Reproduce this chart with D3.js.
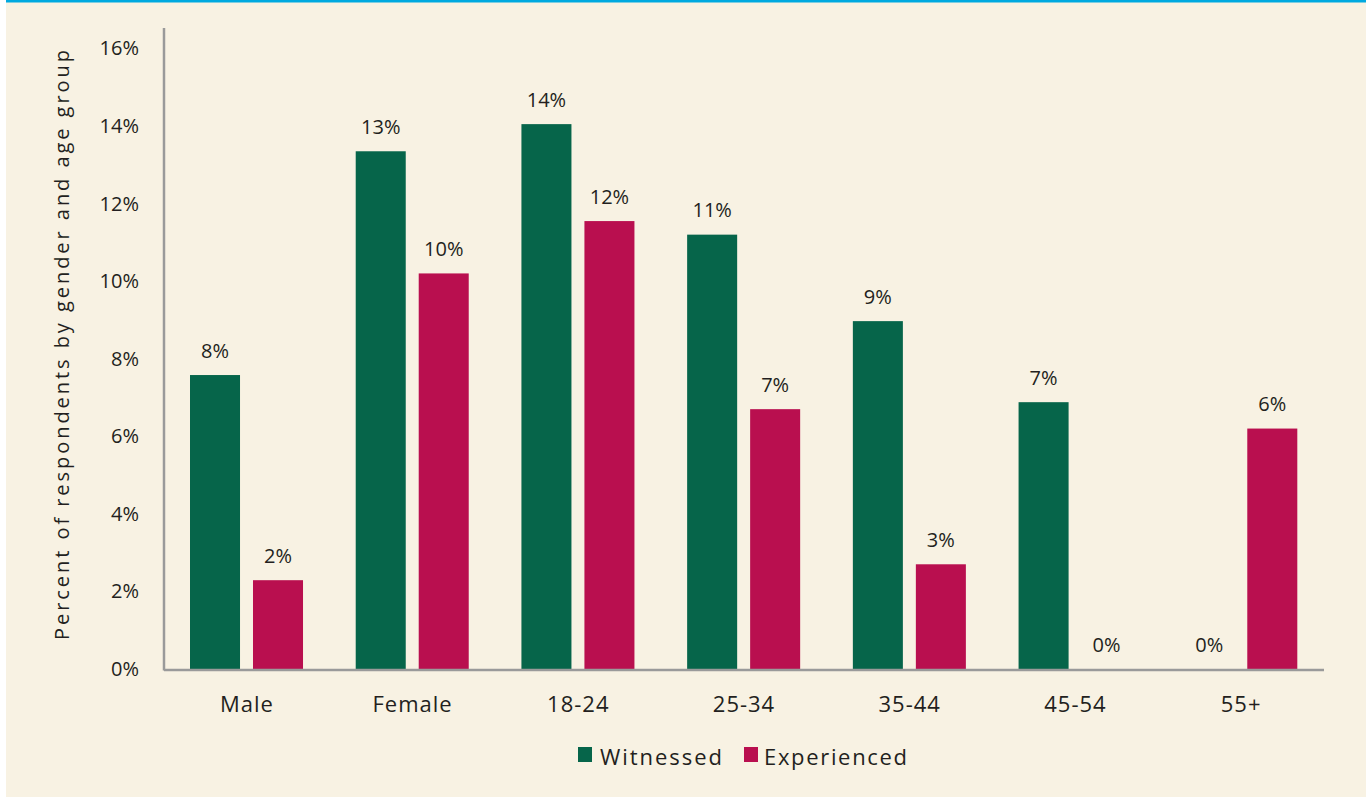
<!DOCTYPE html>
<html><head><meta charset="utf-8">
<script src="https://cdn.jsdelivr.net/npm/d3@7"></script>
<style>
html,body{margin:0;padding:0;background:#fff;}
svg{display:block;}
text{font-family:"Open Sans",Lato,sans-serif;fill:#231F20;}
</style></head>
<body>
<svg id="c" width="1366" height="797"></svg>
<script>
const categories = ["Male","Female","18-24","25-34","35-44","45-54","55+"];
const seriesNames = ["Witnessed","Experienced"];
const witnessed = [7.58, 13.35, 14.05, 11.2, 8.97, 6.88, 0];
const experienced = [2.29, 10.2, 11.55, 6.7, 2.7, 0, 6.2];
const yTicks = [0,2,4,6,8,10,12,14,16];
const colors = ["#06654A","#B90F4F"];
const yTitle = "Percent of respondents by gender and age group";

const FONT = "'Open Sans',Lato,sans-serif";
const svg = d3.select("#c");
svg.append("rect").attr("x",6).attr("y",0).attr("width",1360).attr("height",797).attr("fill","#F8F2E3");
svg.append("rect").attr("x",6).attr("y",0).attr("width",1360).attr("height",2.5).attr("fill","#00A9E0");

const x0 = 164, x1 = 1324, yBase = 669;
const x = d3.scaleBand().domain(categories).range([x0,x1]).paddingInner(0).paddingOuter(0);
const xs = d3.scaleBand().domain(seriesNames).range([26, x.bandwidth()-26.7]).paddingInner(0.206);
const y = d3.scaleLinear().domain([0,16]).range([yBase,48.5]);

const data = categories.map((c,i)=>({cat:c, vals:[witnessed[i],experienced[i]]}));

const g = svg.selectAll("g.grp").data(data).enter().append("g")
  .attr("transform", d=>`translate(${x(d.cat)},0)`);
g.selectAll("rect").data(d=>d.vals.map((v,j)=>({v,s:seriesNames[j],j})))
  .enter().append("rect")
  .attr("x", d=>xs(d.s)).attr("width", xs.bandwidth())
  .attr("y", d=>y(d.v)).attr("height", d=>yBase-y(d.v))
  .attr("fill", d=>colors[d.j]);
g.selectAll("text").data(d=>d.vals.map((v,j)=>({v,s:seriesNames[j],j})))
  .enter().append("text")
  .attr("x", d=>xs(d.s)+xs.bandwidth()/2).attr("y", d=>y(d.v)-17.3)
  .attr("text-anchor","middle").attr("font-size",20)
  .text(d=>Math.round(d.v)+"%");

// axes
const yAxis = d3.axisLeft(y).tickValues(yTicks).tickSize(0).tickPadding(25).tickFormat(d=>d+"%");
const ya = svg.append("g").attr("transform",`translate(${x0},0)`).call(yAxis);
ya.select(".domain").remove();
ya.selectAll("text").attr("font-size",20).style("font-family",FONT).attr("fill","#231F20");
svg.append("line").attr("x1",x0).attr("x2",x0).attr("y1",28).attr("y2",yBase+1.5)
  .attr("stroke","#9A9A9A").attr("stroke-width",2.5);

const xAxis = d3.axisBottom(x).tickSize(0).tickPadding(27);
const xa = svg.append("g").attr("transform",`translate(0,${yBase})`).call(xAxis);
xa.select(".domain").remove();
xa.selectAll("text").attr("font-size",22).style("font-family",FONT).attr("fill","#231F20")
  .style("letter-spacing","1px");
svg.append("line").attr("x1",x0).attr("x2",x1).attr("y1",yBase+1).attr("y2",yBase+1)
  .attr("stroke","#9A9A9A").attr("stroke-width",2.5);

svg.append("text").attr("transform","translate(69,345) rotate(-90)")
  .attr("text-anchor","middle").attr("font-size",20)
  .attr("textLength",590).attr("lengthAdjust","spacing").text(yTitle);

// legend
const legX = [578, 744];
const legW = [122, 143];
const lg = svg.selectAll("g.leg").data(seriesNames).enter().append("g")
  .attr("transform",(d,i)=>`translate(${legX[i]},747)`);
lg.append("rect").attr("width",14).attr("height",15).attr("fill",(d,i)=>colors[i]);
lg.append("text").attr("x",(d,i)=>i===0?22:20).attr("y",18).attr("font-size",22)
  .attr("textLength",(d,i)=>legW[i]).attr("lengthAdjust","spacing").text(d=>d);
</script>
</body></html>
